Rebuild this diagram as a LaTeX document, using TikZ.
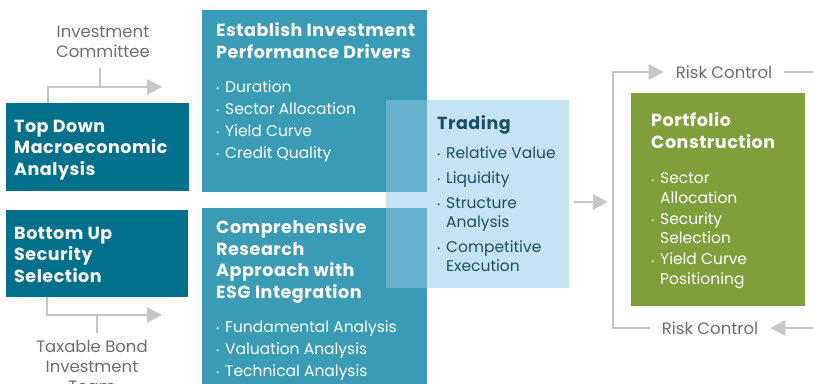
\documentclass[tikz,border=0pt]{standalone}
\usepackage{fontspec}
\setmainfont{Poppins}
\usetikzlibrary{arrows.meta}

\definecolor{deepteal}{HTML}{00708C}
\definecolor{midteal}{HTML}{3A9BB6}
\definecolor{overlapblue}{HTML}{63B1CD}
\definecolor{paleblue}{HTML}{C5E3F2}
\definecolor{tradeink}{HTML}{1B5064}
\definecolor{olivegreen}{HTML}{7F9F3B}
\definecolor{linegray}{HTML}{C6C6C6}
\definecolor{labelgray}{HTML}{6E6E6E}

\newcommand{\pnt}{\makebox[9pt][l]{\raisebox{0.5pt}{\footnotesize\textbullet}}}
\newcommand{\hang}{\hspace*{9pt}}

\tikzset{
  panel/.style={anchor=north west,inner sep=0pt},
  head/.style={anchor=base west,inner sep=0pt,align=left,text=white,
    font=\fontsize{17.5}{21.5}\selectfont\bfseries\addfontfeature{LetterSpace=3}},
  list/.style={anchor=base west,inner sep=0pt,align=left,text=white,
    font=\fontsize{15.5}{22}\selectfont},
  note/.style={inner sep=0pt,align=center,text=labelgray,
    font=\fontsize{16.5}{20}\selectfont},
  link/.style={draw=linegray,line width=2.2pt},
  grayarrow/.style={-{Triangle[length=15pt,width=15pt]}}
}

\begin{document}
\begin{tikzpicture}[x=1pt,y=-1pt]
\useasboundingbox (0,0) rectangle (813,383);
% coloured panels
\node[panel,fill=deepteal,minimum width=183,minimum height=88] (td) at (6,103) {};
\node[panel,fill=deepteal,minimum width=182,minimum height=87] (bu) at (6,210) {};
\node[panel,fill=midteal,minimum width=225,minimum height=182] (est) at (202,10) {};
\node[panel,fill=midteal,minimum width=225,minimum height=185] (cre) at (202,208) {};
\node[panel,fill=paleblue,minimum width=183,minimum height=188] (trade) at (386,100) {};
\fill[overlapblue] (trade.north west) rectangle (est.south east);
\fill[overlapblue] (trade.west |- cre.north) rectangle (cre.east |- trade.south);
\node[panel,fill=olivegreen,minimum width=174,minimum height=213] (pc) at (631,93) {};

% texts in the panels (anchored at the baseline of their last line)
\node[head] (tdhead) at (14,175) {Top Down\\Macroeconomic\\Analysis};
\node[head] (buhead) at (14,282) {Bottom Up\\Security\\Selection};
\node[head] (esthead) at (216,58) {Establish Investment\\Performance Drivers};
\node[list] (estlist) at (216,158) {\pnt Duration\\\pnt Sector Allocation\\\pnt Yield Curve\\\pnt Credit Quality};
\node[head] (crehead) at (216,298) {Comprehensive\\Research\\Approach with\\ESG Integration};
\node[list] (crelist) at (216,376) {\pnt Fundamental Analysis\\\pnt Valuation Analysis\\\pnt Technical Analysis};
\node[head,text=tradeink] (tradehead) at (437,129) {Trading};
\node[list,text=tradeink,font=\fontsize{15.5}{19}\selectfont] (tradelist) at (437,271)
  {\pnt Relative Value\\[6pt]\pnt Liquidity\\[6pt]\pnt Structure\\\hang Analysis\\[6pt]\pnt Competitive\\\hang Execution};
\node[head] (pchead) at (651,148) {Portfolio\\Construction};
\node[list,font=\fontsize{15.5}{19.5}\selectfont] (pclist) at (651,284)
  {\pnt Sector\\\hang Allocation\\[1.5pt]\pnt Security\\\hang Selection\\[1.5pt]\pnt Yield Curve\\\hang Positioning};

% gray labels
\node[note] (ic) at (103,42) {Investment\\Committee};
\node[note,anchor=north] (tb) at (92,340) {Taxable Bond\\Investment\\Team};
\node[note,inner xsep=12pt] (rctop) at (724,72) {Risk Control};
\node[note,inner xsep=12pt] (rcbot) at (710,328) {Risk Control};

% connectors
\coordinate (icbend) at (48,87);
\coordinate (icend) at (162,87);
\coordinate (ictick) at (100,68);
\draw[link,grayarrow] (td.north -| icbend) -- (icbend) -- (icend);
\draw[link] (ictick) -- (ictick |- icbend);

\coordinate (bubend) at (47,315);
\coordinate (buend) at (162,315);
\coordinate (tbtick) at (97,333);
\draw[link,grayarrow] (bu.south -| bubend) -- (bubend) -- (buend);
\draw[link] (tbtick) -- (tbtick |- bubend);

\coordinate (pcin) at (608,202);
\draw[link,grayarrow,shorten <=5pt] (trade.east |- pcin) -- (pcin);

\coordinate (loopnw) at (613,72);
\coordinate (loopsw) at (613,328);
\coordinate (loopne) at (820,72);
\coordinate (loopse) at (820,328);
\draw[link,grayarrow] (rcbot.west) -- (loopsw) -- (loopnw) -- (rctop.west);
\draw[link] (rctop.east) -- (loopne);
\draw[link,grayarrow] (loopse) -- (rcbot.east);
\end{tikzpicture}
\end{document}
